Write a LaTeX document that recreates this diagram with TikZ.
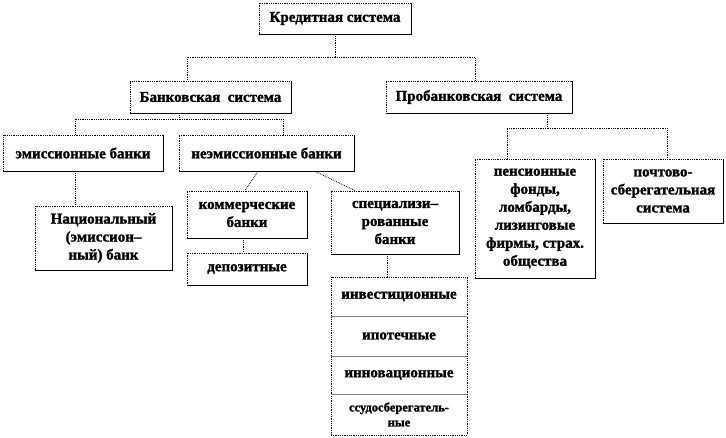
\documentclass[tikz,border=0pt]{standalone}
\usepackage{fontspec}
\setmainfont{Liberation Serif}[BoldFont={Liberation Serif Bold}, BoldFeatures={FakeBold=1.5}]
\usepackage{tikz}

\tikzset{
  blok/.style={draw, densely dotted, line width=0.8pt, align=center, inner sep=0pt,
    font=\fontsize{15}{18}\selectfont\bfseries},
  link/.style={densely dotted, line width=0.8pt},
  divider/.style={draw=gray, line width=1.5pt}
}

\begin{document}
\begin{tikzpicture}[x=1pt, y=-1pt]
        \useasboundingbox (0, 0) rectangle (726, 437);
        % levels 1 and 2
        \node[blok, minimum width=152pt, minimum height=31pt] (kred) at (335, 18.5) {Кредитная система};
        \node[blok, minimum width=161pt, minimum height=32pt] (bank) at (210.5, 97) {Банковская~ система};
        \node[blok, minimum width=186pt, minimum height=32pt] (probank) at (479, 97) {Пробанковская~ система};
        % bank branch
        \node[blok, minimum width=160pt, minimum height=36pt] (emis) at (83, 153) {эмиссионные банки};
        \node[blok, minimum width=175pt, minimum height=36pt] (neemis) at (266.5, 153) {неэмиссионные банки};
        \node[blok, minimum width=137pt, minimum height=64pt] (nac) at (103.5, 238) {Национальный\\(эмиссион--\\ный) банк};
        \node[blok, minimum width=120pt, minimum height=47pt] (komm) at (247, 214.5) {коммерческие\\банки};
        \node[blok, minimum width=120pt, minimum height=32pt] (depo) at (247, 269) {депозитные};
        \node[blok, minimum width=128pt, minimum height=63pt] (spec) at (395, 222.5) {специализи--\\рованные\\банки};
        \node[blok, minimum width=136pt, minimum height=39pt] (inv) at (399, 296.5) {инвестиционные};
        \node[blok, minimum width=136pt, minimum height=40pt] (ipo) at (399, 336) {ипотечные};
        \node[blok, minimum width=136pt, minimum height=38pt] (inn) at (399, 375) {инновационные};
        \node[blok, minimum width=136pt, minimum height=41pt, font=\fontsize{12.5}{15}\selectfont\bfseries] (ssu) at (399, 414.5) {ссудосберегатель-\\ные};
        % probank branch
        \node[blok, minimum width=120pt, minimum height=119pt] (pens) at (535, 218.5) {пенсионные\\фонды,\\ломбарды,\\лизинговые\\фирмы, страх.\\общества};
        \node[blok, minimum width=120pt, minimum height=64pt] (post) at (663, 191) {почтово-\\сберегательная\\система};
        % solid lower and right edges
        \foreach \n in {kred, bank, probank, emis, neemis, nac, komm, depo, spec, pens, post}
            \draw[line width=0.8pt] (\n.north east) -- (\n.south east) -- (\n.south west);
        \foreach \n in {inv, ipo, inn}
            \draw[divider] (\n.south west) -- (\n.south east);
        % connectors
        \draw[link] (kred.south) -- ++(0, 23) -| ([xshift=-23.5pt]bank.north);
        \draw[link] (kred.south) -- ++(0, 23) -| ([xshift=-4pt]probank.north);
        \draw[link] ([xshift=-31.5pt]bank.south) -- ++(0, 6) -| ([xshift=-8pt]emis.north);
        \draw[link] ([xshift=-31.5pt]bank.south) -- ++(0, 6) -| ([xshift=16.5pt]neemis.north);
        \draw[link] ([xshift=-8pt]emis.south) -- ([xshift=-8pt]emis.south |- nac.north);
        \draw[link] ([xshift=-8.5pt]neemis.south) -- ([xshift=-2pt]komm.north);
        \draw[link] ([xshift=48.5pt]neemis.south) -- ([xshift=-40pt]spec.north);
        \draw[link] ([xshift=-4pt]komm.south) -- ([xshift=-4pt]depo.north);
        \draw[link] ([xshift=-8pt]spec.south) -- ([xshift=-8pt]spec.south |- inv.north);
        \draw[link] ([xshift=68pt]probank.south) -- ++(0, 15) -| ([xshift=-28pt]pens.north);
        \draw[link] ([xshift=68pt]probank.south) -- ++(0, 15) -| ([xshift=4pt]post.north);
    \end{tikzpicture}
\end{document}
